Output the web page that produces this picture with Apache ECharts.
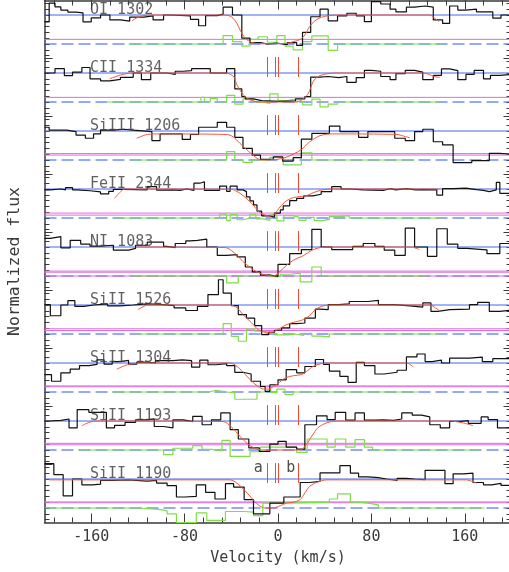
<!DOCTYPE html>
<html><head><meta charset="utf-8">
<script src="https://cdn.jsdelivr.net/npm/echarts@6/dist/echarts.min.js"></script>
<style>html,body{margin:0;padding:0;background:#fff}#c{width:509px;height:572px}</style>
</head><body><div id="c"></div>
<script>
// ---- panel layout (each panel occupies 2 flux units, stacked) ----
const panelNames = ['OI 1302','CII 1334','SiIII 1206','FeII 2344','NI 1083','SiII 1526','SiII 1304','SiII 1193','SiII 1190'];
const panelBases = [16,14,12,10,8,6,4,2,0];
const magentaLevels = [[0.16],[0.16],[0.22,0.17],[0.17,0.10],[0.17,0.13,0.0],[0.18,0.12],[0.21,0.18],[0.23,0.18],[0.21,0.18]];
const compVel = [-9,-2,0,17];
const compMarks = [['a',-17,1.39],['b',11,1.39]];
const xMajor = [-160,-80,0,80,160];

// ---- data: [velocity (km/s), normalized flux]; histograms are left-edge steps ----
const fluxOI = [[-200,0.76],[-196,1.41],[-191,1.28],[-186,1.17],[-180,1.10],[-173,1.07],[-167,0.76],[-160,0.90],[-152,1.0],[-144,0.83],[-135,0.79],[-127,0.93],[-115,0.97],[-107,0.83],[-98,1.0],[-92,0.97],[-75,0.85],[-68,0.63],[-62,0.98],[-52,1.03],[-47,1.27],[-39,1.0],[-31,0.2],[-24,0.05],[-15,0.0],[-9,0.03],[-1,-0.02],[8,0.05],[16,-0.05],[21,0.40],[28,0.94],[36,1.2],[43,0.80],[51,0.97],[59,1.06],[67,0.97],[74,0.77],[80,1.46],[88,1.38],[96,1.2],[101,1.11],[110,1.27],[117,1.31],[126,1.27],[133,0.83],[141,0.71],[147,1.31],[154,1.17],[161,1.2],[170,1.11],[184,0.89],[191,1.0],[200,1.0]];
const modelOI = [[-125,0.80],[-120,0.92],[-115,0.98],[-108,1.0],[-45,1.0],[-41,0.96],[-38.5,0.89],[-35,0.7],[-32.5,0.48],[-28,0.2],[-22.5,0.05],[-15,0.01],[7,0.02],[13,0.08],[19,0.16],[23,0.31],[27,0.6],[31.6,0.8],[37,0.92],[44,0.98],[53,1.0],[130,1.0],[134,0.9],[138,0.77]];
const residOI = [[-128,0],[-47,0.29],[-39,0.08],[-31,-0.07],[-24,0.16],[-17,0.25],[-9,0.06],[-1,0.29],[6,-0.07],[13,-0.2],[21,0.08],[29,0.28],[43,-0.22],[51,0],[141,0]];

const fluxCII = [[-200,1.0],[-191,1.15],[-183,0.91],[-176,1.03],[-168,1.19],[-161,0.80],[-152,0.73],[-144,0.78],[-135,0.85],[-124,1.0],[-117,0.77],[-109,1.0],[-95,0.95],[-88,1.06],[-81,1.08],[-74,1.15],[-58,1.0],[-44,1.15],[-37,0.45],[-31,0.19],[-28,0.11],[-21,0.05],[-14,0.02],[2,0.04],[15,0.11],[23,0.19],[28,0.86],[36,0.88],[43,0.84],[52,0.88],[59,0.68],[67,0.84],[74,1.09],[80,1.06],[88,0.88],[96,0.77],[101,0.98],[109,1.09],[117,1.03],[124,0.77],[133,0.92],[140,1.14],[147,1.08],[154,0.77],[161,0.95],[168,1.09],[176,0.80],[182,0.92],[190,0.95],[200,0.95]];
const modelCII = [[-144,0.80],[-135,0.93],[-125,1.0],[-44,1.0],[-40,0.93],[-37.6,0.86],[-35.3,0.6],[-31,0.31],[-26.8,0.14],[-21,0.03],[-14,0.0],[16,0.0],[21.6,0.11],[25.9,0.29],[30.2,0.71],[34.4,0.88],[41.6,0.97],[50,1.0],[124,1.0],[134,0.88],[138.5,0.85]];
const residCII = [[-146,0],[-66,0.16],[-63,0],[-58,0.12],[-52,0],[-44,0.23],[-37,-0.07],[-30,0.11],[-21,0.0],[-14,-0.05],[-7,0.28],[0,0.05],[8,0.1],[15,0.02],[21,-0.1],[29,0.1],[36,-0.17],[43,-0.07],[51,0],[138,0]];

const fluxSiIII = [[-200,1.13],[-196,1.03],[-181,0.98],[-173,0.86],[-165,0.75],[-158,0.9],[-152,1.03],[-141,1.06],[-132,1.03],[-124,0.98],[-108,0.67],[-101,0.9],[-82,0.71],[-75,0.88],[-68,1.13],[-52,1.3],[-44,1.13],[-37,0.78],[-30,0.4],[-22,0.17],[-15,0.02],[-4,0.11],[4,-0.04],[13,0.08],[20,0.72],[29,0.92],[44,1.17],[53,0.98],[69,0.78],[77,0.98],[100,0.75],[109,0.67],[117,0.98],[124,1.06],[133,0.63],[141,0.52],[150,-0.09],[166,-0.02],[181,0.23],[190,0.2],[200,0.2]];
const modelSiIII = [[-121,0.75],[-112,0.88],[-104,0.9],[-44,0.88],[-38.5,0.8],[-32.5,0.57],[-25,0.29],[-18,0.06],[-14,0.0],[-1,0.02],[6,0.08],[13,0.2],[20,0.36],[27,0.62],[36,0.84],[47,0.9],[102,0.88],[108,0.82],[113,0.76]];
const residSiIII = [[-125,0],[-44,0.29],[-37,0.0],[-30,-0.08],[-22,0.0],[-7,0.09],[4.5,-0.17],[20,0.25],[29,0],[117,0]];

const fluxFeII = [[-200,0.97],[-195,1.0],[-186,0.97],[-182,1.05],[-176,0.97],[-172,0.94],[-161,0.9],[-152,0.83],[-145,0.92],[-141,0.99],[-132,0.97],[-112,1.08],[-104,0.96],[-98,0.97],[-90,0.95],[-84,1.0],[-78,0.95],[-72,1.2],[-67,1.25],[-63,0.95],[-50,1.1],[-44,0.92],[-41,1.1],[-35,0.97],[-30,0.91],[-27,0.73],[-24,0.59],[-21,0.45],[-18,0.24],[-14,0.07],[-7,0.03],[-3,0.17],[2,0.28],[4.5,0.42],[10,0.6],[16,0.68],[22,0.76],[30,0.82],[37,0.91],[46,1.08],[54,1.0],[62,0.97],[73,0.95],[90,1.01],[96,0.97],[101,1.01],[110,0.97],[118,0.98],[124,0.97],[136,0.79],[141,1.01],[150,1.03],[161,0.98],[170,0.95],[176,0.91],[181,0.97],[187,1.23],[190,0.85],[200,0.85]];
const modelFeII = [[-140,0.68],[-135,0.9],[-131,1.0],[-40,0.99],[-36,0.93],[-32.5,0.85],[-25.4,0.62],[-19.7,0.37],[-15.4,0.18],[-11,0.1],[-7,0.07],[-2.6,0.15],[1.7,0.38],[7.4,0.6],[13,0.7],[18.8,0.74],[24.5,0.77],[30,0.87],[37,0.96],[44,1.0],[138,1.0]];
const residFeII = [[-141,0],[-63,0],[-50,0.14],[-44,-0.09],[-41,0.12],[-35,-0.06],[-30,0.0],[-24,0.13],[-19,-0.03],[-13,-0.08],[-7,0.1],[-1,-0.1],[5,0.08],[12,0.03],[18,-0.08],[24,0.02],[31,-0.09],[38,-0.05],[44,0.05],[53,0.08],[61,0],[141,0]];

const fluxNI = [[-200,1.3],[-195,1.36],[-186,0.97],[-178,1.23],[-169,1.1],[-161,1.03],[-152,1.06],[-141,0.89],[-128,0.95],[-122,1.06],[-112,1.17],[-98,1.02],[-95,0.98],[-88,1.12],[-79,1.21],[-75,1.23],[-69,1.27],[-61,1.0],[-52,0.71],[-44,0.74],[-35,0.66],[-28,0.31],[-22,0.14],[-15,0.03],[-7,-0.01],[0,0.4],[10,0.77],[20,0.91],[29,1.61],[37,1.0],[46,0.91],[64,1.02],[73,1.12],[83,1.02],[91,0.89],[100,0.71],[109,1.65],[117,1.0],[128,0.68],[136,1.63],[145,1.1],[154,0.95],[162,0.92],[173,0.9],[179,0.77],[190,1.12],[200,1.12]];
const modelNI = [[-121,1.0],[-45,0.98],[-40,0.88],[-35,0.71],[-30,0.5],[-24,0.3],[-18,0.14],[-12,0.05],[-4,0.0],[2,0.17],[7.4,0.37],[13,0.54],[22,0.71],[29,0.89],[36,0.98],[45,1.0],[114,1.0],[121,0.91]];
const residNI = [[-125,0],[-44,-0.24],[-34,0],[-23,0.02],[-10,0.05],[-7,-0.02],[2,0.06],[10,0.1],[19,-0.2],[29,0.31],[37,0],[127,0]];

const fluxSiII1526 = [[-200,1.01],[-195,0.63],[-186,1.0],[-180,1.15],[-174,0.95],[-166,1.0],[-158,1.04],[-146,0.97],[-135,1.0],[-124,1.04],[-112,1.02],[-101,0.98],[-89,0.9],[-79,0.81],[-69,0.95],[-60,1.36],[-51,1.87],[-47,1.41],[-40,0.98],[-34,0.67],[-27,0.55],[-20,0.29],[-14,-0.02],[-8,0.06],[-3,0.13],[3,0.21],[10,0.36],[16,0.38],[23,0.55],[32,0.86],[36,0.84],[43,1.01],[52,1.04],[61,1.12],[77,1.16],[86,1.01],[100,0.97],[113,0.93],[124,1.07],[131,0.78],[137,0.84],[147,0.86],[164,1.01],[171,1.09],[181,0.78],[190,0.82],[200,0.82]];
const modelSiII1526 = [[-120,0.84],[-115,0.95],[-112,1.0],[-41,1.0],[-35,0.9],[-30,0.67],[-22.5,0.38],[-17,0.15],[-11,0.06],[-5.4,0.06],[-1,0.13],[6,0.3],[13,0.4],[20,0.47],[27,0.63],[32,0.84],[37,0.95],[44,1.0],[130,1.0],[135,0.9],[139,0.78]];
const residSiII1526 = [[-122,0],[-47,0.36],[-40,-0.08],[-34,-0.25],[-27,0.17],[-20,0.1],[-14,0.04],[-3,-0.03],[9,0.0],[15,-0.05],[22,0.02],[29,-0.07],[36,-0.1],[44,0.0],[138,0]];

const fluxSiII1304 = [[-200,0.6],[-194,0.37],[-186,0.66],[-178,0.79],[-170,0.91],[-162,0.95],[-155,1.11],[-149,0.96],[-142,1.05],[-135,1.09],[-128,0.96],[-121,1.03],[-112,1.0],[-105,1.08],[-90,1.11],[-82,1.08],[-74,0.86],[-67,1.1],[-60,0.94],[-53,0.98],[-44,0.91],[-37,0.68],[-30,0.62],[-23,0.37],[-15,0.19],[-11,0.02],[-7,0.25],[0,0.42],[7,0.77],[16,0.66],[23,0.88],[32,1.12],[39,0.95],[44,0.72],[53,0.54],[60,0.33],[67,1.02],[74,0.91],[83,0.62],[91,0.68],[102,0.75],[110,1.21],[119,1.31],[126,1.05],[132,1.1],[140,1.0],[147,1.17],[164,1.2],[175,1.05],[184,1.15],[200,1.15]];
const modelSiII1304 = [[-138,0.79],[-129,0.94],[-118,1.0],[-41,1.0],[-35,0.88],[-28,0.6],[-22.5,0.37],[-17,0.19],[-12.5,0.1],[-8,0.1],[-4,0.19],[0,0.29],[6,0.48],[13,0.56],[20,0.6],[24.5,0.71],[30,0.88],[37,0.98],[44,1.0],[110,1.0],[116,0.86]];
const residSiII1304 = [[-142,0],[-59,0.06],[-53,0],[-44,-0.03],[-37,-0.25],[-18,0.0],[-11,0.06],[-6,-0.02],[-1,0.1],[6,-0.09],[13,0],[120,0]];

const fluxSiII1193 = [[-200,1.0],[-196,1.02],[-186,1.07],[-179,0.76],[-172,1.39],[-162,1.3],[-147,0.76],[-140,0.85],[-131,0.95],[-122,1.04],[-112,1.07],[-106,0.81],[-98,0.76],[-90,1.04],[-81,0.98],[-73,1.16],[-65,0.87],[-57,1.04],[-49,1.28],[-41,0.7],[-34,0.38],[-25,0.07],[-16,-0.05],[-7,0.2],[0,0.3],[7,0.1],[16,0.03],[23,0.87],[33,1.18],[42,1.05],[49,1.3],[58,1.03],[66,1.28],[74,1.03],[83,1.04],[90,1.02],[99,1.07],[106,1.28],[115,1.2],[123,1.14],[130,0.87],[139,0.76],[147,0.99],[156,1.01],[163,0.92],[174,1.14],[180,1.05],[188,0.76],[200,0.76]];
const modelSiII1193 = [[-168,0.84],[-162,0.95],[-158,0.99],[-150,1.0],[-47,0.98],[-40,0.8],[-32.5,0.47],[-25,0.18],[-18,0.03],[-10,0.0],[19,0.0],[24.5,0.2],[29,0.48],[34.5,0.78],[42,0.94],[50,1.0],[147,1.0],[158,0.94],[167,0.84]];
const residSiII1193 = [[-171,0],[-98,-0.16],[-90,0.06],[-73,0.15],[-65,0.02],[-57,-0.03],[-48,0.33],[-41,-0.22],[-24,-0.06],[-15,0.1],[16,-0.08],[25,0.38],[42,0.1],[49,0.38],[58,0.1],[66,0.36],[74,0.1],[81,0],[173,0]];

const fluxSiII1190 = [[-200,1.53],[-192,1.15],[-184,0.42],[-176,1.0],[-168,0.8],[-159,0.82],[-152,0.95],[-141,0.97],[-128,0.93],[-112,0.95],[-104,0.86],[-95,0.77],[-87,0.38],[-80,0.4],[-70,0.8],[-62,0.54],[-54,0.31],[-45,0.84],[-38,0.72],[-29,0.29],[-21,-0.2],[-7,0.17],[5,0.38],[19,0.88],[27,0.92],[36,1.21],[53,1.46],[62,1.2],[69,1.07],[77,1.05],[86,1.0],[93,0.95],[102,1.02],[110,1.0],[117,0.98],[126,1.3],[143,0.84],[150,1.18],[159,1.2],[167,0.88],[176,0.8],[183,0.85],[191,0.78],[200,0.78]];
const modelSiII1190 = [[-196,0.97],[-41,0.97],[-35,0.85],[-29,0.63],[-22.5,0.34],[-17,0.11],[-11,0.0],[-4,0.0],[2,0.08],[7.4,0.17],[13,0.2],[19,0.29],[23,0.52],[27,0.74],[33,0.88],[42,0.97],[161,0.97],[170,0.86]];
const residSiII1190 = [[-200,0],[-120,-0.05],[-102,-0.1],[-95,-0.2],[-87,-0.5],[-70,-0.17],[-61,-0.43],[-45,-0.12],[-29,-0.14],[-21,-0.26],[-13,0.17],[3,0.2],[44,0.31],[51,0.49],[62,0.2],[69,0.17],[77,0.11],[86,0],[177,0]];

const fluxes = [fluxOI,fluxCII,fluxSiIII,fluxFeII,fluxNI,fluxSiII1526,fluxSiII1304,fluxSiII1193,fluxSiII1190];
const models = [modelOI,modelCII,modelSiIII,modelFeII,modelNI,modelSiII1526,modelSiII1304,modelSiII1193,modelSiII1190];
const resids = [residOI,residCII,residSiIII,residFeII,residNI,residSiII1526,residSiII1304,residSiII1193,residSiII1190];

// ---- chart ----
const FONT = 'DejaVu Sans Mono';
const TXT = '#3a3a3a';
const AX = '#3a3a3a';
const xMinor = []; for (let v = -192; v <= 192; v += 16) xMinor.push(v);
const yMinor = []; for (let k = -2; k <= 87; k++) yMinor.push(+(k*0.2).toFixed(2));
const yMajor = []; for (let k = 0; k < 8; k++) yMajor.push(1.5 + 2*k);

const base = {silent:true, animation:false, symbol:'none', xAxisIndex:0, yAxisIndex:0};
const series = [];
panelBases.forEach((b, i) => {
  const sh = d => d.map(p => [p[0], p[1] + b]);
  series.push(Object.assign({type:'line', data:[[-200,b+1],[200,b+1]], lineStyle:{color:'#4766ef', width:1}, z:1,
    markLine:{silent:true, animation:false, symbol:['none','none'], label:{show:false},
      lineStyle:{color:'#ef4a36', width:1, type:'solid'},
      data: compVel.map(v => [{coord:[v, b+0.86]},{coord:[v, b+1.55]}])}}, base));
  series.push(Object.assign({type:'line', data:[[-200,b],[200,b]], lineStyle:{color:'#2e52f3', width:1, type:[12,5]}, z:1}, base));
  magentaLevels[i].forEach(m => series.push(Object.assign({type:'line', data:[[-200,b+m],[200,b+m]], lineStyle:{color:'#dc6ee0', width:1}, z:2}, base)));
  series.push(Object.assign({type:'line', step:'end', data:sh(resids[i]), lineStyle:{color:'#7ede46', width:1.2}, z:3}, base));
  series.push(Object.assign({type:'line', step:'end', data:sh(fluxes[i]), lineStyle:{color:'#111111', width:1.2}, z:4}, base));
  series.push(Object.assign({type:'line', smooth:0.3, data:sh(models[i]), lineStyle:{color:'#f4583a', width:1}, z:5}, base));
  series.push({type:'scatter', silent:true, animation:false, symbolSize:0, z:6, xAxisIndex:0, yAxisIndex:0, data:[[-161, b+1]],
    label:{show:true, formatter:panelNames[i], position:[0,0], align:'left', verticalAlign:'bottom', offset:[0,3],
      fontFamily:FONT, fontSize:15, lineHeight:15, color:TXT}});
});
series.push({type:'scatter', silent:true, animation:false, symbolSize:0, z:6, xAxisIndex:0, yAxisIndex:0,
  data: compMarks.map(m => ({value:[m[1], m[2]], name:m[0]})),
  label:{show:true, formatter:'{b}', position:'inside', fontFamily:FONT, fontSize:15, color:'#222'}});

const xAx = (grid, pos, major, withLabel) => ({
  type:'value', gridIndex:grid, min:-200, max:200, position:pos, splitLine:{show:false},
  axisLine:{show:major, onZero:false, lineStyle:{color:AX, width:1.5}},
  axisTick:{show:true, inside:true, length: major ? 9 : 5, customValues: major ? xMajor : xMinor, lineStyle:{color:AX, width:1}},
  axisLabel:{show:withLabel, customValues:xMajor, margin:7, color:TXT, fontFamily:FONT, fontSize:15},
  name: withLabel ? 'Velocity (km/s)' : '', nameLocation:'middle', nameGap:28,
  nameTextStyle:{color:TXT, fontFamily:FONT, fontSize:15}
});
const yAx = (grid, pos, major, withName) => ({
  type:'value', gridIndex:grid, min:-0.5, max:17.5, position:pos, splitLine:{show:false},
  axisLine:{show:major, onZero:false, lineStyle:{color:AX, width:1.5}},
  axisTick:{show:true, inside:true, length: major ? 8 : 5, customValues: major ? yMajor : yMinor, lineStyle:{color:AX, width:1}},
  axisLabel:{show:false},
  name: withName ? 'Normalized flux' : '', nameLocation:'middle', nameGap:21,
  nameTextStyle:{color:TXT, fontFamily:FONT, fontSize:16.5}
});

const gridBox = {left:44.5, top:0.5, width:467, height:522, containLabel:false, outerBoundsMode:'none'};
const chart = echarts.init(document.getElementById('c'), null, {renderer:'canvas'});
chart.setOption({
  animation:false,
  backgroundColor:'#ffffff',
  grid:[Object.assign({}, gridBox), Object.assign({}, gridBox)],
  xAxis:[xAx(0,'bottom', true, true), xAx(0,'top', true, false), xAx(1,'bottom', false, false), xAx(1,'top', false, false)],
  yAxis:[yAx(0,'left', true, true), yAx(0,'right', true, false), yAx(1,'left', false, false), yAx(1,'right', false, false)],
  series: series
});
</script></body></html>
